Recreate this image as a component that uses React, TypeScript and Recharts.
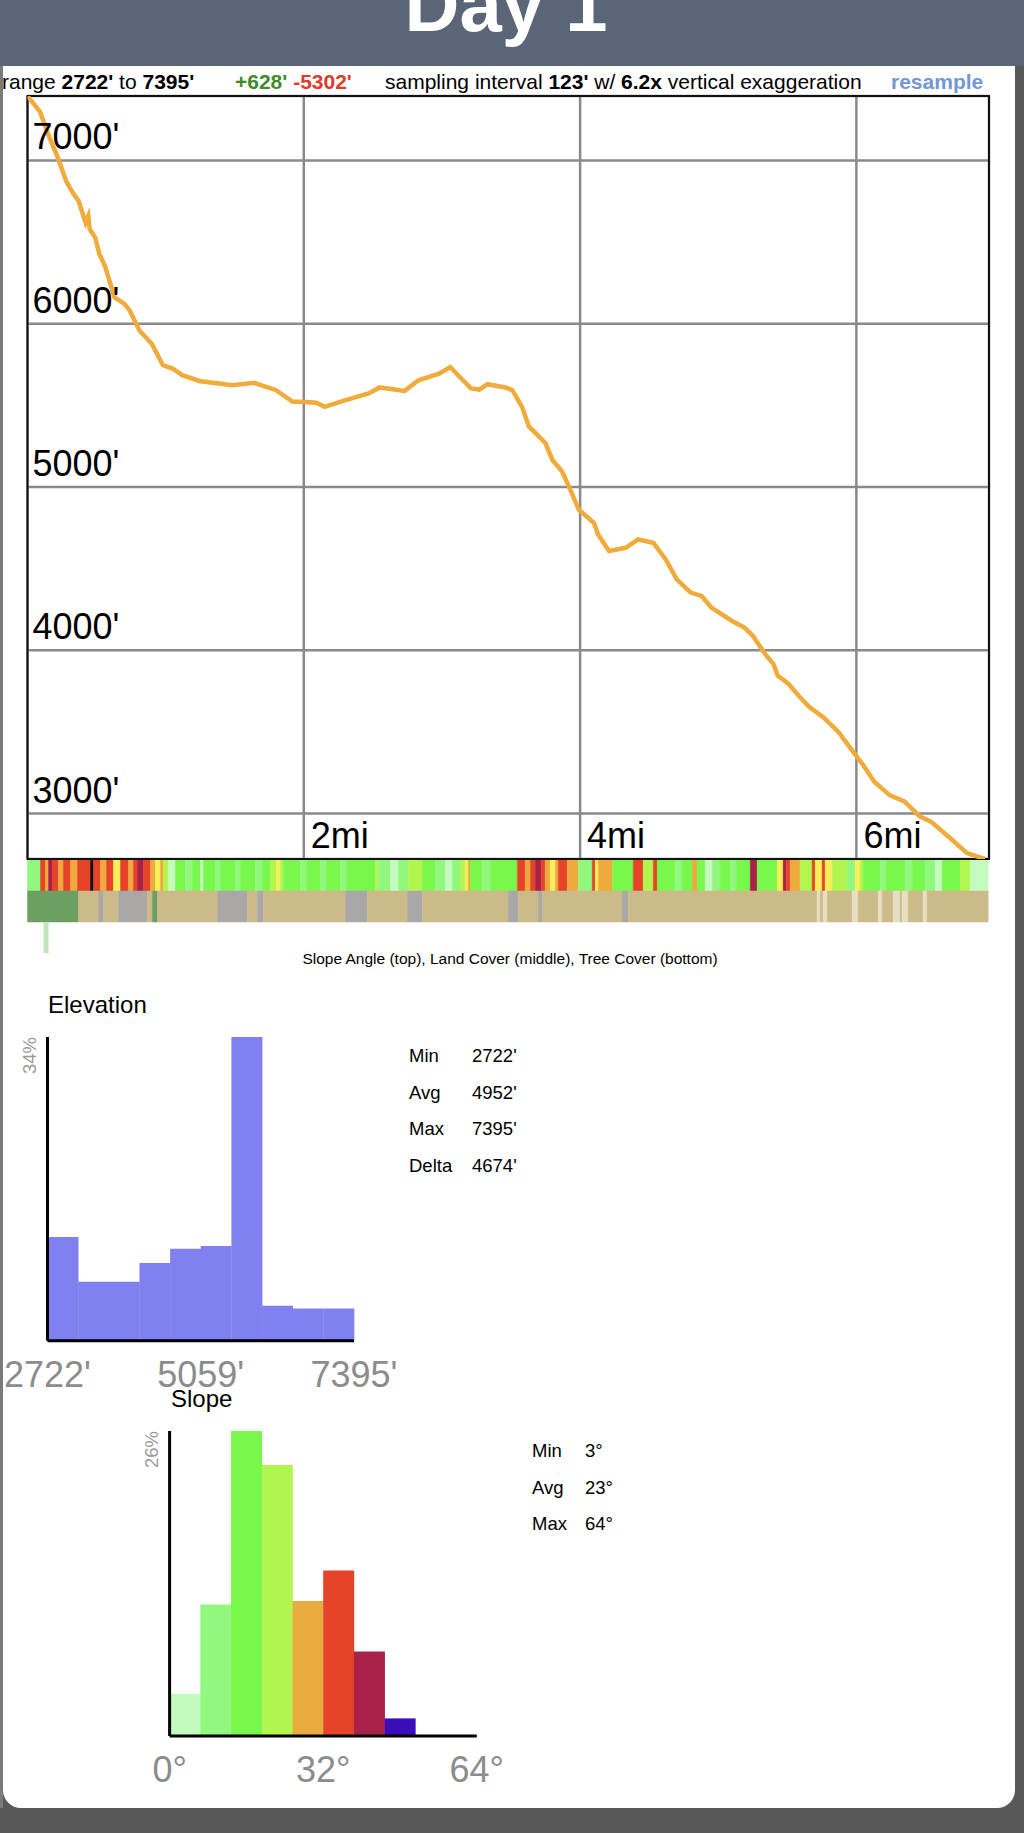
import React from 'react';
import {
  LineChart,
  Line,
  XAxis,
  YAxis,
  CartesianGrid,
  ReferenceArea,
  ComposedChart,
  BarChart,
  Bar,
  Cell
} from 'recharts';

const FONT = '"Liberation Sans", Arial, Helvetica, sans-serif';

// elevation profile
const profileMiles = [
  0, 0.09, 0.16, 0.22, 0.28, 0.32, 0.37, 0.42, 0.44, 0.45, 0.49, 0.52, 0.56, 0.6, 0.63, 0.7,
  0.74, 0.81, 0.9, 0.98, 1.05, 1.12, 1.25, 1.39, 1.48, 1.64, 1.8, 1.92, 1.99, 2.09, 2.15,
  2.28, 2.4, 2.47, 2.55, 2.73, 2.83, 2.98, 3.06, 3.14, 3.21, 3.27, 3.33, 3.46, 3.51, 3.58,
  3.63, 3.68, 3.75, 3.8, 3.87, 3.94, 3.99, 4.1, 4.13, 4.21, 4.33, 4.42, 4.53, 4.62, 4.7,
  4.8, 4.88, 4.95, 5.1, 5.19, 5.25, 5.34, 5.4, 5.43, 5.51, 5.58, 5.66, 5.76, 5.87, 5.96,
  6.05, 6.13, 6.24, 6.35, 6.46, 6.54, 6.68, 6.8, 6.93
];
const profileFeet = [
  7395, 7300, 7138, 7016, 6874, 6813, 6752, 6620, 6660, 6580, 6528, 6428, 6355, 6245, 6162, 6123,
  6081, 5959, 5878, 5746, 5726, 5685, 5648, 5634, 5624, 5638, 5593, 5522, 5522, 5516, 5491,
  5526, 5557, 5573, 5610, 5589, 5654, 5695, 5735, 5665, 5604, 5597, 5630, 5610, 5593, 5491,
  5370, 5329, 5268, 5166, 5095, 4963, 4862, 4781, 4709, 4608, 4628, 4679, 4659, 4557, 4435,
  4354, 4333, 4262, 4180, 4140, 4089, 3977, 3916, 3845, 3794, 3723, 3652, 3591, 3500, 3398,
  3296, 3195, 3113, 3073, 2982, 2951, 2849, 2758, 2722
];
const elevTicks = [3000, 4000, 5000, 6000, 7000];
const distTicks = [2, 4, 6];
const minElev = 2722;
const maxElev = 7395;
const totalMiles = 6.96;

// slope angle strip (top): run start in miles + class letter
const slopeRunStarts = [
  0, 0.094, 0.13, 0.152, 0.181, 0.224, 0.26, 0.311, 0.362, 0.456, 0.478, 0.528, 0.572, 0.622,
  0.673, 0.731, 0.767, 0.796, 0.839, 0.89, 0.926, 0.962, 0.984, 1.02, 1.071, 1.143, 1.194,
  1.252, 1.274, 1.36, 1.397, 1.505, 1.541, 1.65, 1.7, 1.758, 1.802, 1.831, 1.852, 1.975,
  2.019, 2.12, 2.164, 2.265, 2.308, 2.518, 2.54, 2.627, 2.685, 2.757, 2.858, 2.952, 3.025,
  3.075, 3.133, 3.169, 3.191, 3.205, 3.292, 3.35, 3.546, 3.603, 3.64, 3.676, 3.719, 3.748,
  3.784, 3.821, 3.842, 3.907, 3.987, 4.088, 4.11, 4.132, 4.233, 4.385, 4.457, 4.53, 4.559,
  4.689, 4.739, 4.812, 4.848, 4.906, 4.957, 5.014, 5.087, 5.13, 5.232, 5.282, 5.427, 5.47,
  5.492, 5.521, 5.593, 5.68, 5.702, 5.752, 5.774, 5.825, 5.933, 5.991, 6.027, 6.049, 6.172,
  6.216, 6.353, 6.404, 6.498, 6.57, 6.621, 6.751, 6.823
];
const slopeRunClasses =
  'LROMRORORKRORWRORMROWOYPGLGPGLGLGLGYWYGLGLGLGYLPLYGLPLYWOGLGRORMROWOROLRWOGRYRGLGOGPLGLGMGWMROYRWRWYLWYGLGLGLPGYP'.split('');
const stripEnd = 6.954;

// land cover strip (middle)
const landRunStarts = [
  0, 0.369, 0.514, 0.55, 0.658, 0.868, 0.904, 0.941, 1.375, 1.592, 1.664, 1.708, 2.301, 2.46,
  2.75, 2.858, 3.48, 3.553, 3.698, 3.727, 4.305, 4.349, 5.716, 5.738, 5.76, 5.789, 5.97,
  6.013, 6.158, 6.187, 6.266, 6.317, 6.331, 6.375, 6.483, 6.512
];
const landRunClasses = 'FTSTSTFTSTSTSTSTSTSTSTCTCTCTCTCTCTCT'.split('');

// tree cover strip (bottom)
const treeRunStarts = [0.116];
const treeRunEnds = [0.152];

const slopeColors: Record<string, string> = {
  P: '#c6fbbf', L: '#92f77e', G: '#78f74c', Y: '#b2f54e', W: '#f5f05a',
  O: '#eeaa3e', R: '#e54428', M: '#a82149', K: '#111111'
};
const landColors: Record<string, string> = {
  F: '#6e9f62', T: '#ccbb88', S: '#aaa8a6', C: '#e6dfc4'
};

// histograms
const elevBins = ['b1', 'b2', 'b3', 'b4', 'b5', 'b6', 'b7', 'b8', 'b9', 'b10'];
const elevPct = [11.6, 6.6, 6.6, 8.7, 10.3, 10.6, 34, 3.9, 3.6, 3.6];
const elevAxisLabels = ["2722'", "5059'", "7395'"];
const elevStatLabels = ['Min', 'Avg', 'Max', 'Delta'];
const elevStatValues = ["2722'", "4952'", "7395'", "4674'"];

const slopeBins = ['s1', 's2', 's3', 's4', 's5', 's6', 's7', 's8', 's9', 's10'];
const slopePct = [3.6, 11.2, 26, 23.1, 11.5, 14.1, 7.2, 1.5, 0, 0];
const slopeBinColors = ['#c3fbbe', '#92f77e', '#78f74c', '#b2f54e', '#eaab3e', '#e44428', '#a82149', '#3b0db8', '#3b0db8', '#3b0db8'];
const slopeAxisLabels = ['0°', '32°', '64°'];
const slopeStatLabels = ['Min', 'Avg', 'Max'];
const slopeStatValues = ['3°', '23°', '64°'];

const profileData = profileMiles.map((mi, i) => ({ mi, ft: profileFeet[i] }));
const elevData = elevBins.map((bin, i) => ({ bin, pct: elevPct[i] }));
const slopeData = slopeBins.map((bin, i) => ({ bin, pct: slopePct[i] }));

const runs = (starts: number[], classes: string[]) =>
  starts.map((s, i) => ({ from: s, to: i < starts.length - 1 ? starts[i + 1] : stripEnd, c: classes[i] }));

const MAIN_H = 775;
const MAIN_MARGIN = { top: 6, left: 26.5, right: 11, bottom: 5 };
const plotLeft = MAIN_MARGIN.left + 1;
const plotBottom = MAIN_H - MAIN_MARGIN.bottom - 1;

const ElevTick = (props: any) => (
  <text x={plotLeft + 5} y={props.y - 11} fontSize={36} fontFamily={FONT} fill="#000">
    {props.payload.value}'
  </text>
);

const DistTick = (props: any) => (
  <text x={props.x + 7} y={plotBottom - 11} fontSize={36} fontFamily={FONT} fill="#000">
    {props.payload.value}mi
  </text>
);

// labels sit on the bin edges: left of bin 0, left of bin 5, right of bin 9
const binEdgeTick = (labels: string[], bottom: number, binWidth: number) => (props: any) => {
  const i = props.index;
  let x = 0;
  let label = '';
  if (i === 0) { x = props.x - binWidth / 2; label = labels[0]; }
  else if (i === 5) { x = props.x - binWidth / 2; label = labels[1]; }
  else if (i === 9) { x = props.x + binWidth / 2; label = labels[2]; }
  else return <g />;
  return (
    <text x={x} y={bottom + 46} textAnchor="middle" fontSize={36} fontFamily={FONT} fill="#8c8c8c">
      {label}
    </text>
  );
};

const pctTick = (top: number, left: number) => (props: any) => {
  const x = left - 12;
  return (
    <text
      x={x}
      y={top}
      textAnchor="end"
      fontSize={18.5}
      fontFamily={FONT}
      fill="#9a9a9a"
      transform={`rotate(-90, ${x}, ${top})`}
    >
      {props.payload.value}%
    </text>
  );
};

const Stats = ({ labels, values, x1, x2, y }: { labels: string[]; values: string[]; x1: number; x2: number; y: number }) => (
  <g fontSize={18.5} fontFamily={FONT} fill="#000">
    {labels.map((l, i) => (
      <React.Fragment key={l}>
        <text x={x1} y={y + i * 36.6}>{l}</text>
        <text x={x2} y={y + i * 36.6}>{values[i]}</text>
      </React.Fragment>
    ))}
  </g>
);

const ELEV_W = 400;
const SLOPE_W = 440;
const HIST_H = 400;

export default function App() {
  const elevMargin = { top: 37, left: 46.5, right: 46, bottom: 58.3 };
  const slopeMargin = { top: 31, left: 68.6, right: 63.2, bottom: 63 };
  const elevBinW = (ELEV_W - elevMargin.left - 1 - elevMargin.right) / elevBins.length;
  const slopeBinW = (SLOPE_W - slopeMargin.left - 1 - slopeMargin.right) / slopeBins.length;

  return (
    <div style={{ position: 'absolute', left: 0, top: 0, width: 1024, height: 1833, background: '#585858', overflow: 'hidden', fontFamily: FONT }}>
      <div style={{ position: 'absolute', left: 0, top: 0, width: 3, height: 1808, background: '#7a7a7a' }} />
      <div
        style={{
          position: 'absolute', left: 3, top: 0, width: 1012, height: 1808, background: '#fff',
          borderBottomLeftRadius: 18, borderBottomRightRadius: 18
        }}
      />
      <div style={{ position: 'absolute', left: 0, top: 0, width: 1024, height: 66, background: '#5a6577' }} />

      <div style={{ position: 'absolute', left: 0, top: 90 }}>
        <LineChart width={1000} height={MAIN_H} data={profileData} margin={MAIN_MARGIN}>
          <CartesianGrid stroke="#8a8a8a" strokeWidth={2.5} />
          <XAxis
            dataKey="mi"
            type="number"
            domain={[0, totalMiles]}
            ticks={distTicks}
            allowDataOverflow
            height={1}
            axisLine={false}
            tickLine={false}
            tick={DistTick}
          />
          <YAxis
            type="number"
            domain={[minElev, maxElev]}
            ticks={elevTicks}
            allowDataOverflow
            width={1}
            axisLine={false}
            tickLine={false}
            tick={ElevTick}
          />
          <ReferenceArea x1={0} x2={totalMiles} y1={minElev} y2={maxElev} fill="none" stroke="#111" strokeWidth={2} />
          <Line
            type="linear"
            dataKey="ft"
            stroke="#f0ab3b"
            strokeWidth={4.5}
            dot={false}
            isAnimationActive={false}
          />
        </LineChart>
      </div>

      <div style={{ position: 'absolute', left: 0, top: 860 }}>
        <ComposedChart width={1000} height={93} data={[{ mi: 0 }, { mi: totalMiles }]} margin={{ top: 0, bottom: 0, left: plotLeft, right: MAIN_MARGIN.right }}>
          <XAxis dataKey="mi" type="number" domain={[0, totalMiles]} allowDataOverflow hide />
          <YAxis type="number" domain={[0, 3]} reversed allowDataOverflow hide />
          {runs(slopeRunStarts, slopeRunClasses).map((r, i) => (
            <ReferenceArea
              key={`s${i}`}
              x1={r.from}
              x2={r.to}
              y1={0}
              y2={1}
              fill={slopeColors[r.c]}
              fillOpacity={1}
              stroke={slopeColors[r.c]}
              strokeWidth={0.5}
            />
          ))}
          {runs(landRunStarts, landRunClasses).map((r, i) => (
            <ReferenceArea
              key={`l${i}`}
              x1={r.from}
              x2={r.to}
              y1={1}
              y2={2}
              fill={landColors[r.c]}
              fillOpacity={1}
              stroke={landColors[r.c]}
              strokeWidth={0.5}
            />
          ))}
          {treeRunStarts.map((s, i) => (
            <ReferenceArea key={`t${i}`} x1={s} x2={treeRunEnds[i]} y1={2} y2={3} fill="#bfe5bb" fillOpacity={1} stroke="none" />
          ))}
        </ComposedChart>
      </div>

      <div style={{ position: 'absolute', left: 0, top: 1000 }}>
        <BarChart width={ELEV_W} height={HIST_H} data={elevData} margin={elevMargin} barCategoryGap={0} barGap={0}>
          <XAxis
            dataKey="bin"
            height={1}
            interval={0}
            axisLine={{ stroke: '#000', strokeWidth: 3 }}
            tickLine={false}
            tick={binEdgeTick(elevAxisLabels, HIST_H - elevMargin.bottom - 1, elevBinW)}
          />
          <YAxis
            type="number"
            domain={[0, 34]}
            ticks={[34]}
            allowDataOverflow
            width={1}
            axisLine={{ stroke: '#000', strokeWidth: 3 }}
            tickLine={false}
            tick={pctTick(elevMargin.top, elevMargin.left + 1)}
          />
          <Bar dataKey="pct" fill="#8080f0" isAnimationActive={false} />
        </BarChart>
      </div>

      <div style={{ position: 'absolute', left: 100, top: 1400 }}>
        <BarChart width={SLOPE_W} height={HIST_H} data={slopeData} margin={slopeMargin} barCategoryGap={0} barGap={0}>
          <XAxis
            dataKey="bin"
            height={1}
            interval={0}
            axisLine={{ stroke: '#000', strokeWidth: 3 }}
            tickLine={false}
            tick={binEdgeTick(slopeAxisLabels, HIST_H - slopeMargin.bottom - 1, slopeBinW)}
          />
          <YAxis
            type="number"
            domain={[0, 26]}
            ticks={[26]}
            allowDataOverflow
            width={1}
            axisLine={{ stroke: '#000', strokeWidth: 3 }}
            tickLine={false}
            tick={pctTick(slopeMargin.top, slopeMargin.left + 1)}
          />
          <Bar dataKey="pct" isAnimationActive={false}>
            {slopeData.map((d, i) => (
              <Cell key={d.bin} fill={slopeBinColors[i]} />
            ))}
          </Bar>
        </BarChart>
      </div>

      <svg width={1024} height={1833} style={{ position: 'absolute', left: 0, top: 0, pointerEvents: 'none' }}>
        <text x={506} y={31} textAnchor="middle" fontSize={76} fontWeight="bold" fontFamily={FONT} fill="#fff">Day 1</text>

        <g fontSize={21} fontFamily={FONT} fill="#000">
          <text x={2} y={89}>
            range <tspan fontWeight="bold">2722'</tspan> to <tspan fontWeight="bold">7395'</tspan>
          </text>
          <text x={235} y={89} fontWeight="bold">
            <tspan fill="#3d8b2a">+628'</tspan> <tspan fill="#dc3b30">-5302'</tspan>
          </text>
          <text x={385} y={89}>
            sampling interval <tspan fontWeight="bold">123'</tspan> w/ <tspan fontWeight="bold">6.2x</tspan> vertical exaggeration
          </text>
          <text x={891} y={89} fontWeight="bold" fill="#7497d3">resample</text>
        </g>

        <text x={510} y={964} textAnchor="middle" fontSize={15.5} fontFamily={FONT} fill="#000">
          Slope Angle (top), Land Cover (middle), Tree Cover (bottom)
        </text>

        <text x={48} y={1013} fontSize={24} fontFamily={FONT} fill="#000">Elevation</text>
        <Stats labels={elevStatLabels} values={elevStatValues} x1={409} x2={472} y={1062} />

        <text x={171} y={1407} fontSize={24} fontFamily={FONT} fill="#000">Slope</text>
        <Stats labels={slopeStatLabels} values={slopeStatValues} x1={532} x2={585} y={1457} />
      </svg>
    </div>
  );
}
